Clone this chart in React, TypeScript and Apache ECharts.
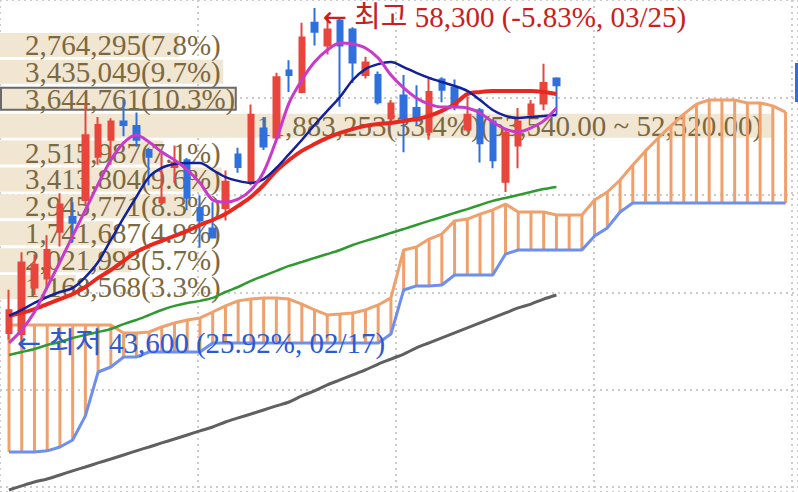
import React, { useEffect, useRef } from 'react';
import * as echarts from 'echarts';

// ---------- data ----------
const categories: string[] = Array.from({ length: 62 }, (_, i) => `${i + 1}`);

// [open, close, low, high]
const candles: number[][] = [
  [44000, 45000, 43700, 45900],
  [43950, 47100, 43600, 47550],
  [46000, 47000, 45670, 47450],
  [46400, 47650, 45900, 48300],
  [48450, 49650, 47800, 50150],
  [49100, 48850, 48000, 49750],
  [49850, 52700, 49650, 54100],
  [51750, 53150, 51400, 53500],
  [52500, 53300, 51400, 53450],
  [53300, 53150, 52650, 54250],
  [53100, 52500, 52200, 53700],
  [52050, 51750, 50500, 52150],
  [49750, 49950, 49700, 51900],
  [51300, 51500, 50600, 52250],
  [51600, 49950, 49400, 51700],
  [49500, 48950, 47750, 50050],
  [48600, 48200, 48150, 49750],
  [49500, 50650, 48950, 51150],
  [51850, 51300, 51050, 52150],
  [50600, 53600, 50500, 54050],
  [53000, 52200, 52050, 53500],
  [52600, 55250, 52500, 55450],
  [55550, 55350, 54600, 56000],
  [54600, 57000, 54550, 57650],
  [57650, 57250, 56650, 58300],
  [56650, 57350, 56250, 58000],
  [57750, 56650, 53950, 57850],
  [57350, 55900, 55000, 57450],
  [55350, 55900, 55200, 56150],
  [55350, 54150, 54050, 55500],
  [53450, 54100, 53250, 54250],
  [54450, 53450, 51950, 55350],
  [53900, 53350, 53150, 54900],
  [52850, 54600, 52500, 55200],
  [55150, 54700, 54150, 55250],
  [54800, 53950, 53800, 55150],
  [52950, 53600, 52850, 54400],
  [53800, 52350, 51500, 53900],
  [53300, 51600, 51250, 53400],
  [50650, 52800, 50200, 52950],
  [52250, 53300, 51250, 53900],
  [53600, 54050, 53450, 54250],
  [54100, 55000, 53800, 55850],
  [55200, 54900, 53600, 55250],
];

const ma5: number[] = [43560,44130,44920,46020,47120,48270,49410,50550,51610,52360,52710,52400,51960,51610,51170,50600,49850,49760,49890,50290,51080,52490,54120,55130,55920,56450,56760,56710,56540,56100,55350,54780,54340,54070,53940,53940,53900,53680,53280,52970,52840,53020,53330,53900];
const ma10: number[] = [44750,45010,45320,45580,45800,45980,46460,47120,48090,49060,49980,50860,51260,51430,51480,51480,51170,50860,50690,50600,50770,51260,51870,52490,53150,53770,54380,55130,55610,55830,55920,55700,55440,55220,55040,54870,54650,54250,53810,53550,53460,53500,53550,53590];
const ma20: number[] = [44750,44880,45050,45270,45490,45710,46020,46420,46770,47170,47560,47830,48050,48270,48490,48750,48970,49230,49590,49980,50510,51130,51610,52010,52310,52580,52800,52970,53110,53190,53240,53330,53410,53550,53770,54070,54510,54600,54650,54650,54650,54650,54600,54510];
const ma60: number[] = [43030,43160,43290,43470,43600,43780,43910,44040,44170,44390,44570,44790,45010,45190,45320,45410,45540,45800,46020,46290,46510,46730,46950,47120,47300,47470,47650,47870,48050,48220,48400,48570,48750,48930,49100,49280,49450,49630,49810,49940,50070,50200,50330,50420];
const ma120: number[] = [37090,37270,37440,37570,37750,37930,38100,38280,38450,38630,38810,38980,39160,39330,39510,39690,39860,40080,40260,40430,40610,40790,40960,41230,41450,41710,41930,42150,42370,42630,42850,43070,43340,43560,43780,44000,44220,44440,44660,44880,45100,45270,45490,45670];

const spanA: number[] = [44350,44350,44350,44350,44350,44350,44350,44350,44350,44000,44000,44040,44260,44440,44570,44660,44920,45190,45410,45490,45540,45540,45490,45270,45010,44790,44830,44880,45010,45230,45540,47650,47780,48130,48350,48930,49010,49230,49410,49670,49320,49320,49320,49190,49190,49190,49850,50200,50730,51390,52010,52580,53110,53630,54070,54250,54250,54250,54120,54120,53990,53720];
const spanB: number[] = [38760,38760,38760,38810,38980,39290,40350,42280,42500,42940,42940,43160,43160,43160,43160,43160,43560,43560,43560,43560,43560,43560,43560,43560,43560,43560,43560,43560,43560,43560,43950,45890,46070,46070,46110,46550,46550,46550,46550,47470,47650,47650,47650,47650,47650,47650,48270,48620,49320,49720,49720,49720,49720,49720,49720,49720,49720,49720,49720,49720,49720,49720];

const profileVolumes: number[] = [2764295, 3435049, 3644761, 11883253, 2515987, 3413804, 2945771, 1741687, 2021993, 1168568];
const profilePercents: number[] = [7.8, 9.7, 10.3, 33.4, 7.1, 9.6, 8.3, 4.9, 5.7, 3.3];
const profileRows: string[] = profileVolumes.map((_, i) => `R${i + 1}`);
const maxRowRange: number[] = [53540, 52520];
const currentRowIndex = 2;

const highValue = 58300;
const highDate = '03/25';
const lowValue = 43600;
const lowDate = '02/17';
const currentPrice = 54900;

// ---------- helpers ----------
const FONT = "'Liberation Serif', 'Noto Sans CJK KR', serif";
const ARROW_FONT = "'DejaVu Sans', sans-serif";
const fmt = (v: number) => v.toLocaleString('en-US');
const fmt2 = (v: number) => v.toLocaleString('en-US', { minimumFractionDigits: 2, maximumFractionDigits: 2 });
const pctFrom = (base: number) => (((currentPrice - base) / base) * 100).toFixed(2);

const highIdx = candles.findIndex((c) => c[3] === highValue);
const lowIdx = candles.findIndex((c) => c[2] === lowValue);
const maxProfileIdx = profileVolumes.indexOf(Math.max(...profileVolumes));

const profileData = profileVolumes.map((v, i) => {
  const item: any = { value: v };
  if (i === maxProfileIdx) {
    item.label = { distance: 257 };
  }
  if (i === currentRowIndex) {
    item.itemStyle = { borderColor: '#6a6a6a', borderWidth: 2 };
  }
  return item;
});

const RED = '#E8463C';
const BLUE = '#2F70DD';

const extremeLabel = (text: string, color: string, offset: number[]) => ({
  show: true,
  position: 'right',
  distance: 0,
  offset,
  formatter: `{a|←} ${text}`,
  color,
  fontFamily: FONT,
  fontSize: 29,
  lineHeight: 26,
  rich: { a: { fontFamily: ARROW_FONT, fontSize: 29, lineHeight: 26, color } },
});

const option: any = {
  animation: false,
  backgroundColor: '#ffffff',
  grid: [
    { left: 2.635, top: 0, width: 789.3, height: 492 },
    { left: -10, top: 31.5, width: 782, height: 269 },
    { left: -7.5, top: -111, width: 812.5, height: 611 },
  ],
  xAxis: [
    { type: 'category', gridIndex: 0, data: categories, show: false, boundaryGap: true },
    { type: 'value', gridIndex: 1, min: 0, max: Math.max(...profileVolumes), show: false },
    {
      type: 'value', gridIndex: 2, min: -7.5, max: 805, interval: 201.5,
      axisLine: { show: false }, axisTick: { show: false }, axisLabel: { show: false },
      splitLine: { show: true, lineStyle: { color: '#cbcbcb', width: 2, type: [2, 4] } },
    },
  ],
  yAxis: [
    { type: 'value', gridIndex: 0, min: 37000, max: 58650, show: false, splitLine: { show: false } },
    { type: 'category', gridIndex: 1, data: profileRows, inverse: true, show: false },
    {
      type: 'value', gridIndex: 2, min: -111, max: 500, interval: 121, inverse: true,
      axisLine: { show: false }, axisTick: { show: false }, axisLabel: { show: false },
      splitLine: { show: true, lineStyle: { color: '#cbcbcb', width: 2, type: [2, 4] } },
    },
  ],
  graphic: [
    { type: 'rect', left: 795, top: 63, shape: { width: 10, height: 39 }, style: { fill: '#2E6EE0' }, z: 20 },
  ],
  series: [
    {
      name: 'profile',
      type: 'bar',
      xAxisIndex: 1,
      yAxisIndex: 1,
      z: 1,
      barWidth: 24,
      itemStyle: { color: '#F1E6D2' },
      label: {
        show: true,
        position: 'insideLeft',
        distance: 25,
        fontFamily: FONT,
        fontSize: 29,
        lineHeight: 25,
        color: '#7B6942',
        formatter: (p: any) => {
          const i = p.dataIndex;
          let s = `${fmt(profileVolumes[i])}(${profilePercents[i].toFixed(1)}%)`;
          if (i === maxProfileIdx) s += `(${fmt2(maxRowRange[0])} ~ ${fmt2(maxRowRange[1])})`;
          return s;
        },
      },
      data: profileData,
    },
    {
      name: 'cloudHatch',
      type: 'custom',
      xAxisIndex: 0,
      yAxisIndex: 0,
      z: 2,
      encode: { x: 0, y: [1, 2] },
      renderItem: (params: any, api: any) => {
        const i = api.value(0);
        const p1 = api.coord([i, api.value(1)]);
        const p2 = api.coord([i, api.value(2)]);
        return {
          type: 'line',
          shape: { x1: p1[0], y1: p1[1], x2: p2[0], y2: p2[1] },
          style: { stroke: '#EFA06C', lineWidth: 3 },
        };
      },
      data: spanA.map((a, i) => [i, a, spanB[i]]),
    },
    {
      name: 'spanA', type: 'line', z: 3, data: spanA, symbol: 'none',
      lineStyle: { color: '#EFA06C', width: 3 },
    },
    {
      name: 'spanB', type: 'line', z: 3, data: spanB, symbol: 'none',
      lineStyle: { color: '#6E8FEE', width: 3 },
    },
    {
      name: 'ma120', type: 'line', z: 3, data: ma120, symbol: 'none', smooth: 0.3,
      lineStyle: { color: '#606060', width: 3 },
    },
    {
      name: 'ma60', type: 'line', z: 3, data: ma60, symbol: 'none', smooth: 0.3,
      lineStyle: { color: '#2F9A2F', width: 2.5 },
    },
    {
      name: 'candles',
      type: 'candlestick',
      z: 4,
      barWidth: 6,
      itemStyle: { color: RED, color0: BLUE, borderColor: RED, borderColor0: BLUE, borderWidth: 2 },
      data: candles,
      markPoint: {
        symbol: 'circle',
        symbolSize: 0,
        z: 10,
        silent: true,
        data: [
          {
            coord: [highIdx, highValue],
            label: extremeLabel(
              `최고 ${fmt(highValue)} (${pctFrom(highValue)}%, ${highDate})`,
              '#C8201E',
              [8, 9],
            ),
          },
          {
            coord: [lowIdx, lowValue],
            label: extremeLabel(
              `최저 ${fmt(lowValue)} (${pctFrom(lowValue)}%, ${lowDate})`,
              '#2A5BD7',
              [-5, 1],
            ),
          },
        ],
      },
    },
    {
      name: 'ma20', type: 'line', z: 5, data: ma20, symbol: 'none', smooth: 0.3,
      lineStyle: { color: '#E8281E', width: 4 },
    },
    {
      name: 'ma10', type: 'line', z: 5, data: ma10, symbol: 'none', smooth: 0.3,
      lineStyle: { color: '#12209C', width: 2.5 },
    },
    {
      name: 'ma5', type: 'line', z: 5, data: ma5, symbol: 'none', smooth: 0.3,
      lineStyle: { color: '#C93ACB', width: 3 },
    },
  ],
};

export default function App() {
  const ref = useRef<HTMLDivElement>(null);
  useEffect(() => {
    if (!ref.current) return;
    const chart = echarts.init(ref.current, null, { renderer: 'svg' });
    chart.setOption(option);
    return () => {
      chart.dispose();
    };
  }, []);
  return (
    <div
      ref={ref}
      style={{ position: 'fixed', left: 0, top: 0, width: 798, height: 492, background: '#ffffff' }}
    />
  );
}
